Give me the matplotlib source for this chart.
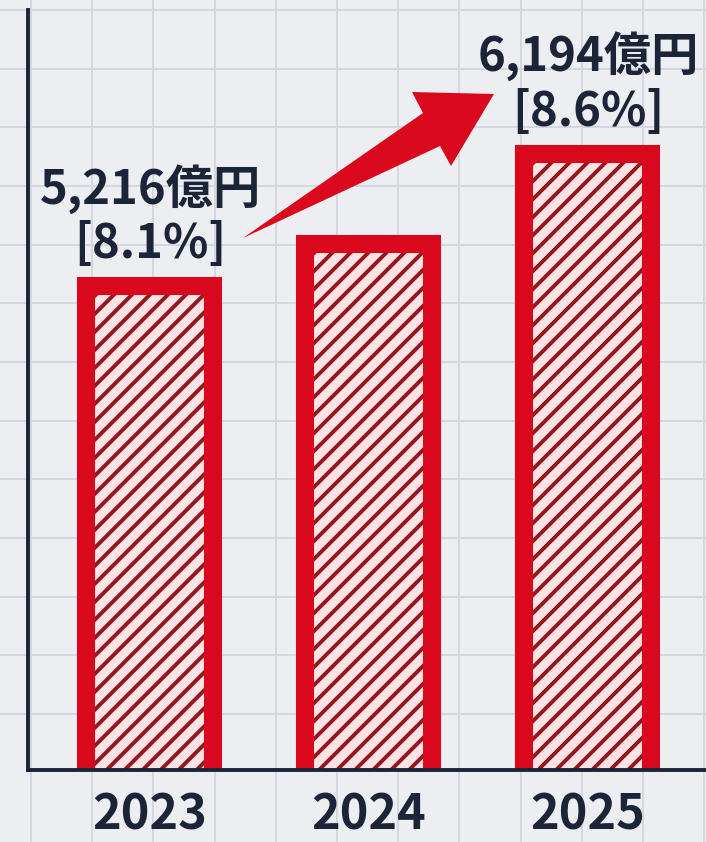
import numpy as np
import matplotlib.pyplot as plt
from matplotlib.patches import Polygon
from matplotlib.collections import LineCollection
from matplotlib.transforms import IdentityTransform, Bbox

plt.rcParams['font.family'] = ['Noto Sans CJK JP', 'DejaVu Sans']

# 売上高の推移（2024年は数値表記なし）
years = ['2023', '2024', '2025']
sales = [5216, 5530, 6194]          # 億円
label_value = ['5,216億円', None, '6,194億円']
label_ratio = ['[8.1%]', None, '[8.6%]']

RED = '#d9081c'
HATCH = '#951520'
PINK = '#fde3e4'
NAVY = '#1c2438'
BG = '#eceef1'
GRID = '#d2d6dd'

W, H = 706, 842
fig = plt.figure(figsize=(W / 100, H / 100), dpi=100, facecolor=BG)

# 方眼紙風の背景
bg = fig.add_axes([0, 0, 1, 1])
bg.set_xlim(0, W)
bg.set_ylim(H, 0)
bg.set_facecolor(BG)
bg.axis('off')
for gx in np.arange(31, W + 5, 61.2):
    bg.axvline(gx, color=GRID, lw=1.3, zorder=0)
for gy in np.linspace(10, 714, 13):
    bg.axhline(gy, color=GRID, lw=1.3, zorder=0)

ax = fig.add_axes([28 / W, 72 / H, 1 - 28 / W, 760 / H])
ax.set_facecolor('none')
x = np.arange(len(years))

ax.set_xlim(-0.557, 2.539)
ax.set_ylim(1644, 7254)

# 塗り → 斜線 → 太い赤枠の順に重ねる
fill = ax.bar(x, sales, width=0.58, color=PINK, linewidth=0, zorder=2)
ax.bar(x, sales, width=0.58, color='none', edgecolor=RED, linewidth=13, zorder=4)

step = 18  # 斜線の間隔(px)
y_base = ax.get_ylim()[0]
for rect in fill:
    (x0, y0), (x1, y1) = ax.transData.transform(
        [(rect.get_x(), y_base), (rect.get_x() + rect.get_width(), rect.get_height())])
    h = y1 - y0
    segs = [[(c, y0), (c + h, y1)] for c in np.arange(x0 - h, x1, step)]
    lc = LineCollection(segs, colors=HATCH, linewidths=2.8, transform=IdentityTransform(), zorder=3)
    ax.add_collection(lc, autolim=False)
    lc.set_clip_path(None)
    lc.set_clip_box(Bbox([[x0, y0], [x1, y1]]))

ax.set_yticks([])
ax.set_xticks(x)
ax.set_xticklabels(years, fontsize=35, color=NAVY, fontweight='bold')
ax.tick_params(axis='x', length=0, pad=15)
for s in ['top', 'right']:
    ax.spines[s].set_visible(False)
for s in ['left', 'bottom']:
    ax.spines[s].set_color(NAVY)
    ax.spines[s].set_linewidth(2.8)
    ax.spines[s].set_zorder(5)

for i, v in enumerate(sales):
    if label_value[i] is None:
        continue
    ax.annotate(label_value[i], (x[i], v), xytext=(0, 70), textcoords='offset points',
                ha='center', va='center', fontsize=34, color=NAVY, fontweight='bold')
    ax.annotate(label_ratio[i], (x[i], v), xytext=(0, 30), textcoords='offset points',
                ha='center', va='center', fontsize=34, color=NAVY, fontweight='bold')

# 右上がりの矢印
arrow_px = [(243, 238), (423, 113), (412, 92), (494, 94), (451, 166), (440, 146)]
arrow = Polygon([(px / W, 1 - py / H) for px, py in arrow_px], closed=True,
                facecolor=RED, edgecolor='none', transform=fig.transFigure, zorder=6)
fig.add_artist(arrow)

fig.savefig('out.png', dpi=100, facecolor=BG)
